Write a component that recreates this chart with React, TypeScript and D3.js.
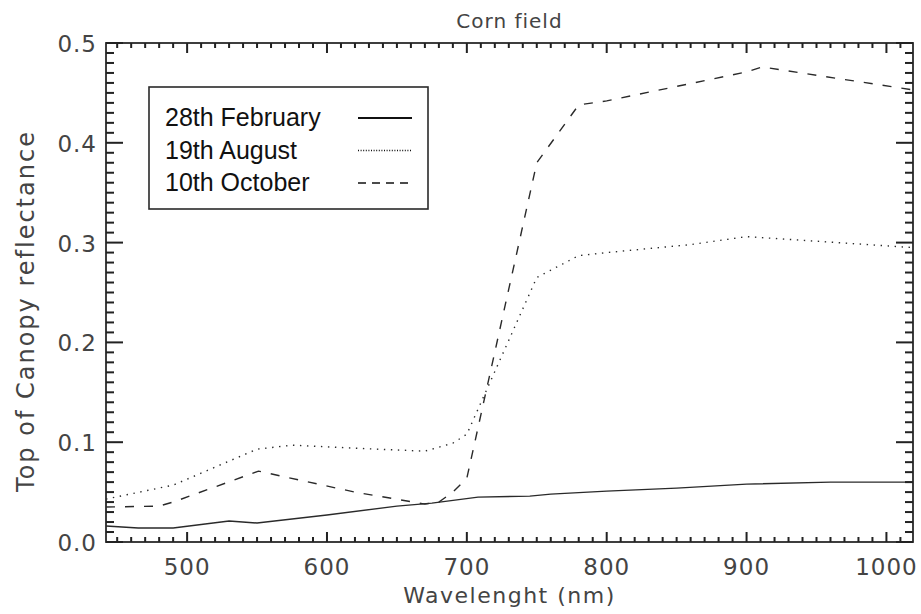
import React from "react";
import * as d3 from "d3";

// ---- data ----
const febWave = [442, 465, 490, 530, 550, 600, 650, 675, 708, 745, 760, 800, 850, 900, 960, 1019];
const febRefl = [0.016, 0.014, 0.014, 0.021, 0.019, 0.027, 0.036, 0.039, 0.045, 0.046, 0.048, 0.051, 0.054, 0.058, 0.060, 0.060];

const augWave = [442, 490, 550, 575, 620, 670, 690, 700, 750, 780, 800, 860, 900, 1019];
const augRefl = [0.043, 0.057, 0.093, 0.097, 0.094, 0.091, 0.099, 0.108, 0.265, 0.287, 0.290, 0.298, 0.306, 0.295];

const octWave = [442, 480, 490, 551, 620, 670, 680, 690, 700, 750, 780, 800, 900, 911, 1019];
const octRefl = [0.035, 0.036, 0.040, 0.071, 0.050, 0.038, 0.040, 0.050, 0.064, 0.380, 0.438, 0.442, 0.471, 0.476, 0.453];

const seriesNames = ["28th February", "19th August", "10th October"];
const xTickValues = [500, 600, 700, 800, 900, 1000];
const xTickLabels = ["500", "600", "700", "800", "900", "1000"];
const yTickValues = [0, 0.1, 0.2, 0.3, 0.4, 0.5];
const yTickLabels = ["0.0", "0.1", "0.2", "0.3", "0.4", "0.5"];

const W = 921, H = 614;
const L = 106, R = 913, T = 43, B = 542;
const ink = "#2a2a2a";
const axisFont = "'DejaVu Sans', sans-serif";

export default function App() {
  const x = d3.scaleLinear().domain([442, 1019]).range([L, R]);
  const y = d3.scaleLinear().domain([0, 0.5]).range([B, T]);
  const lineGen = d3.line<[number, number]>().x(d => x(d[0])).y(d => y(d[1]));
  const mk = (w: number[], r: number[]) => w.map((v, i) => [v, r[i]] as [number, number]);
  const series = [
    { name: seriesNames[0], pts: mk(febWave, febRefl), dash: "none", legDash: "none", legW: 2.2 },
    { name: seriesNames[1], pts: mk(augWave, augRefl), dash: "1.4,5.6", legDash: "1,1.6", legW: 1.3 },
    { name: seriesNames[2], pts: mk(octWave, octRefl), dash: "9,10", legDash: "8,6", legW: 1.6 },
  ];

  const tw = 2;
  const ticks: { x: number; y: number; w: number; h: number }[] = [];
  for (let k = 45; k <= 101; k++) {
    const v = k * 10;
    if (v < 442 || v > 1019) continue;
    const len = v % 100 === 0 ? 10 : 5;
    const px = x(v);
    ticks.push({ x: px - tw / 2, y: B - len, w: tw, h: len });
    ticks.push({ x: px - tw / 2, y: T, w: tw, h: len });
  }
  for (let k = 0; k <= 50; k++) {
    const py = y(k / 100);
    const len = k % 10 === 0 ? 17 : 8;
    ticks.push({ x: L, y: py - tw / 2, w: len, h: tw });
    ticks.push({ x: R - len, y: py - tw / 2, w: len, h: tw });
  }

  const legX = 149, legY = 87, legW = 279, legH = 122;

  return (
    <svg width={W} height={H} style={{ position: "absolute", left: 0, top: 0, background: "#fff" }}>
      <rect x={0} y={0} width={W} height={H} fill="#fff" />
      <text x={(L + R) / 2} y={21} textAnchor="middle" dominantBaseline="central" fontFamily={axisFont} fontSize={20} fill="#444" letterSpacing={1}>Corn field</text>

      {series.map((s, i) => (
        <path key={i} d={lineGen(s.pts) || ""} fill="none" stroke={ink} strokeWidth={1.4} strokeDasharray={s.dash} />
      ))}

      <rect x={L} y={T} width={R - L} height={B - T} fill="none" stroke={ink} strokeWidth={1.8} />
      <g fill="#222">
        {ticks.map((t, i) => (
          <rect key={"t" + i} x={t.x} y={t.y} width={t.w} height={t.h} />
        ))}
      </g>

      {xTickValues.map((v, i) => (
        <text key={"xl" + i} x={x(v)} y={567} textAnchor="middle" dominantBaseline="central" fontFamily={axisFont} fontSize={23} fill="#444" letterSpacing={1}>{xTickLabels[i]}</text>
      ))}
      {yTickValues.map((v, i) => (
        <text key={"yl" + i} x={97} y={y(v) + 1} textAnchor="end" dominantBaseline="central" fontFamily={axisFont} fontSize={23} fill="#444" letterSpacing={1}>{yTickLabels[i]}</text>
      ))}

      <text x={(L + R) / 2} y={595} textAnchor="middle" dominantBaseline="central" fontFamily={axisFont} fontSize={22} fill="#444" letterSpacing={1.5}>Wavelenght (nm)</text>
      <text transform="translate(26,311) rotate(-90)" textAnchor="middle" dominantBaseline="central" fontFamily={axisFont} fontSize={24} fill="#444" letterSpacing={2}>Top of Canopy reflectance</text>

      <rect x={legX} y={legY} width={legW} height={legH} fill="#fff" stroke={ink} strokeWidth={1.6} />
      {series.map((s, i) => {
        const cy = 117 + i * 32.5;
        return (
          <g key={"lg" + i}>
            <text x={165} y={cy} dominantBaseline="central" fontFamily="'Liberation Sans', Arial, sans-serif" fontSize={25} fill="#111">{s.name}</text>
            <path d={`M358,${cy + 1}H412`} stroke="#111" strokeWidth={s.legW} strokeDasharray={s.legDash} fill="none" />
          </g>
        );
      })}
    </svg>
  );
}
